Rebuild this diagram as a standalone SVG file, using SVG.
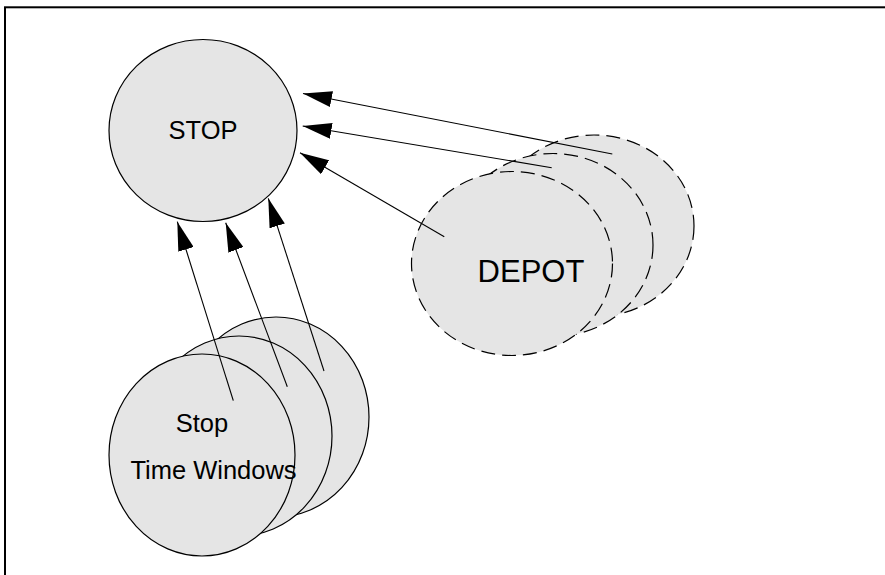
<svg xmlns="http://www.w3.org/2000/svg" width="885" height="575" viewBox="0 0 885 575">
  <style>
    .node { fill: #e5e5e5; stroke: #000; stroke-width: 1.2; }
    .dashed { stroke-dasharray: 14 7; }
    .label { font-family: "Liberation Sans", Arial, sans-serif; fill: #000; text-anchor: middle; }
    .edge { stroke: #000; stroke-width: 1.1; fill: none; marker-end: url(#head); }
  </style>
  <defs>
    <marker id="head" markerUnits="userSpaceOnUse" markerWidth="30" markerHeight="16" refX="29" refY="8" orient="auto">
      <path d="M0,0 L29,8 L0,16 Z" fill="#000"/>
    </marker>
  </defs>

  <rect x="0" y="0" width="885" height="575" fill="#fff"/>
  <!-- frame -->
  <rect x="5" y="7.3" width="900" height="600" fill="none" stroke="#000" stroke-width="2"/>

  <g id="stop">
    <ellipse class="node" cx="203" cy="130.5" rx="94" ry="91"/>
    <text class="label" x="203" y="139" font-size="25.5">STOP</text>
  </g>

  <g id="depot">
    <ellipse class="node dashed" cx="594" cy="226" rx="100" ry="91"/>
    <ellipse class="node dashed" cx="553" cy="245" rx="100" ry="91.5"/>
    <ellipse class="node dashed" cx="512" cy="263.5" rx="100.5" ry="92"/>
    <text class="label" x="531" y="282" font-size="31">DEPOT</text>
  </g>

  <g id="stop-time-windows">
    <ellipse class="node" cx="276" cy="417" rx="93" ry="100"/>
    <ellipse class="node" cx="239" cy="436" rx="93" ry="100"/>
    <ellipse class="node" cx="202" cy="455" rx="93" ry="101"/>
    <text class="label" x="202" y="432" font-size="25.5">Stop</text>
    <text class="label" x="213.5" y="479" font-size="25.5">Time Windows</text>
  </g>

  <g id="connectors">
    <line class="edge" x1="612.3" y1="154" x2="303" y2="93.5"/>
    <line class="edge" x1="551.7" y1="167.7" x2="302.7" y2="126"/>
    <line class="edge" x1="444.3" y1="236.7" x2="300" y2="152.7"/>
    <line class="edge" x1="233.3" y1="400.7" x2="177.3" y2="221.7"/>
    <line class="edge" x1="287.3" y1="386.7" x2="225.7" y2="222.7"/>
    <line class="edge" x1="324" y1="371" x2="268.3" y2="198.3"/>
  </g>
</svg>
